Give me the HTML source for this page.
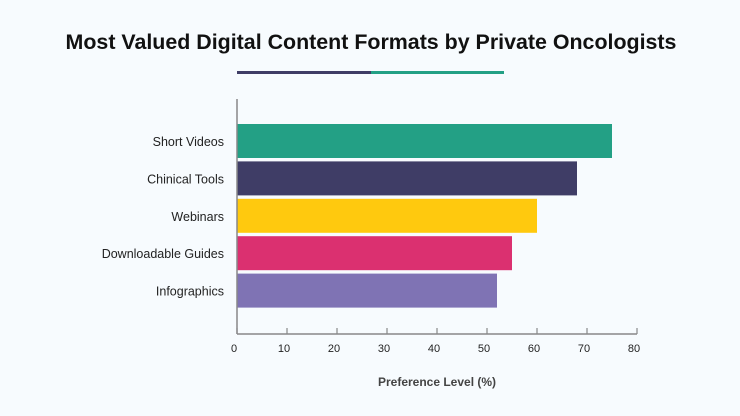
<!DOCTYPE html>
<html><head><meta charset="utf-8"><style>
body{margin:0;background:#f7fbfe;}
svg{display:block;font-family:"Liberation Sans",sans-serif;}
</style></head><body>
<svg width="740" height="416">
<rect width="740" height="416" fill="#f7fbfe"/>
<text x="371" y="49" text-anchor="middle" font-size="21.4" font-weight="bold" fill="#111">Most Valued Digital Content Formats by Private Oncologists</text>
<rect x="237" y="71" width="134" height="3" fill="#3f3d66"/>
<rect x="371" y="71" width="133" height="3" fill="#23a085"/>
<g id="bars"></g>
<line x1="237" y1="99" x2="237" y2="334" stroke="#888" stroke-width="1.5"/>
<line x1="237" y1="334" x2="637" y2="334" stroke="#888" stroke-width="1.5"/>
<g id="ticks"></g>
<text x="437" y="386" text-anchor="middle" font-size="12" font-weight="bold" fill="#444">Preference Level (%)</text>
</svg>
<script>
const categories=["Short Videos","Chinical Tools","Webinars","Downloadable Guides","Infographics"];
const values=[75,68,60,55,52];
const colors=["#23a085","#3f3d66","#ffc90e","#db3070","#7f73b4"];
const tickLabels=[0,10,20,30,40,50,60,70,80];
const NS="http://www.w3.org/2000/svg";
const x=v=>237+v*5.0;
const y=i=>124+i*37.4;
const bars=document.getElementById("bars"),ticks=document.getElementById("ticks");
categories.forEach((c,i)=>{
  const r=document.createElementNS(NS,"rect");
  r.setAttribute("x",x(0));r.setAttribute("y",y(i));
  r.setAttribute("width",x(values[i])-x(0));r.setAttribute("height",34);
  r.setAttribute("fill",colors[i]);
  
  
  bars.appendChild(r);
  const t=document.createElementNS(NS,"text");
  t.setAttribute("x",224);t.setAttribute("y",y(i)+22);
  t.setAttribute("text-anchor","end");t.setAttribute("font-size","12.5");t.setAttribute("fill","#222");
  t.textContent=c;
  
  
  bars.appendChild(t);
});
tickLabels.forEach(v=>{
  const l=document.createElementNS(NS,"line");
  l.setAttribute("x1",x(v));l.setAttribute("x2",x(v));l.setAttribute("y1",328);l.setAttribute("y2",334);
  l.setAttribute("stroke","#888");l.setAttribute("stroke-width","1.2");
  
  
  ticks.appendChild(l);
  const t=document.createElementNS(NS,"text");
  t.setAttribute("x",x(v)-3);t.setAttribute("y",352);
  t.setAttribute("text-anchor","middle");t.setAttribute("font-size","11");t.setAttribute("fill","#222");
  t.textContent=v;
  
  
  ticks.appendChild(t);
});
</script>
</body></html>
